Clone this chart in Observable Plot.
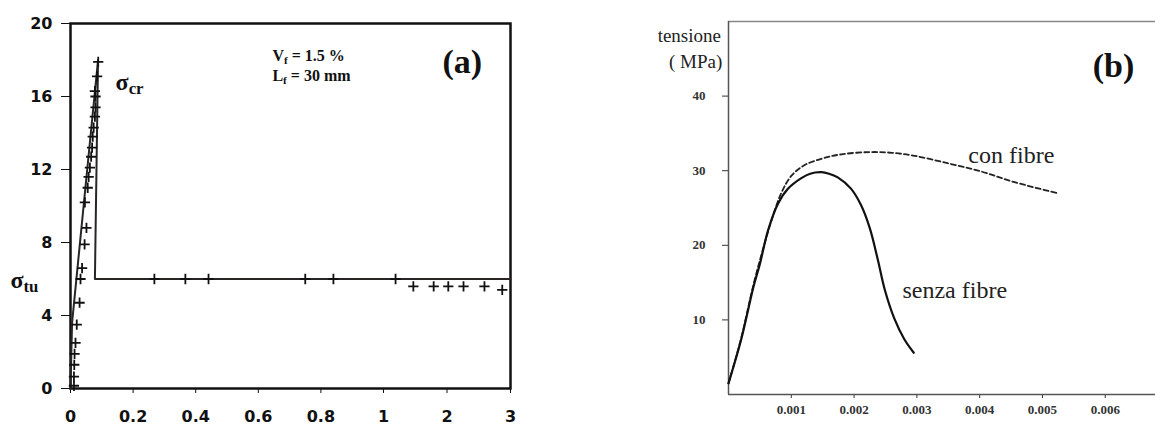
<!DOCTYPE html>
<html>
<head>
<meta charset="utf-8">
<script src="https://cdn.jsdelivr.net/npm/d3@7"></script>
<script src="https://cdn.jsdelivr.net/npm/@observablehq/plot@0.6"></script>
<style>
  body { margin: 0; background: #fff; }
  #wrap { position: relative; width: 1155px; height: 428px; overflow: hidden; background: #fff; }
  #pa { position: absolute; left: 0; top: 0; }
  #pb { position: absolute; left: 560px; top: 0; }
</style>
</head>
<body>
<div id="wrap"><div id="pa"></div><div id="pb"></div></div>
<script>
// ---------- Panel (a) data ----------
const aTicksX = [0, 0.2, 0.4, 0.6, 0.8, 1, 2, 3];
const aTicksY = [0, 4, 8, 12, 16, 20];
const aCrossX = [0.0885, 0.085, 0.078, 0.080, 0.080, 0.078, 0.074, 0.071, 0.069, 0.066, 0.062, 0.058, 0.055, 0.046,
                 0.051, 0.045, 0.037, 0.032, 0.029, 0.020, 0.016, 0.013, 0.012, 0.011, 0.011,
                 0.268, 0.367, 0.441, 0.75, 0.84, 1.19, 1.47, 1.79, 2.02, 2.26, 2.59, 2.87];
const aCrossY = [17.9, 17.1, 16.3, 16.0, 15.4, 14.9, 14.3, 13.8, 13.2, 12.7, 12.1, 11.6, 11.0, 10.2,
                 8.8, 7.9, 6.6, 6.0, 4.7, 3.5, 2.5, 1.9, 1.3, 0.65, 0.15,
                 6.0, 6.0, 6.0, 6.0, 6.0, 6.0, 5.6, 5.6, 5.6, 5.6, 5.6, 5.4];
const aModelX = [0, 0.005, 0.088, 0.078, 3];
const aModelY = [0, 3.6, 18.0, 6.0, 6.0];

// ---------- Panel (b) data ----------
const bTicksX = [0.001, 0.002, 0.003, 0.004, 0.005, 0.006];
const bTicksY = [10, 20, 30, 40];
const senzaX = [0, 0.0002, 0.0004, 0.0005, 0.00063, 0.00079, 0.00095, 0.00116, 0.0013, 0.00148, 0.0016, 0.00174,
                0.00195, 0.00211, 0.00225, 0.00238, 0.00249, 0.00264, 0.0028, 0.00295];
const senzaY = [1.5, 7.3, 14.5, 17.5, 22.0, 25.6, 27.6, 29.0, 29.6, 29.8, 29.6, 29.1,
                27.6, 25.4, 22.3, 18.0, 14.0, 10.2, 7.4, 5.6];
const conX = [0, 0.0002, 0.0004, 0.00055, 0.00068, 0.00084, 0.001, 0.0012, 0.00148, 0.0018, 0.00227, 0.0026,
              0.00296, 0.00349, 0.00402, 0.00454, 0.00523];
const conY = [1.5, 7.5, 14.8, 19.5, 23.2, 27.0, 29.3, 30.7, 31.6, 32.2, 32.5, 32.4,
              32.0, 31.0, 29.9, 28.5, 27.0];

const crosses = aCrossX.map((x, i) => ({x, y: aCrossY[i]}));
const model = aModelX.map((x, i) => ({x, y: aModelY[i]}));
const senza = senzaX.map((x, i) => ({x, y: senzaY[i]}));
const conF = conX.map((x, i) => ({x, y: conY[i]}));

// turn "A_{b}rest" into subscripted tspans (call after the svg is in the document)
function subscriptify(svg) {
  svg.querySelectorAll("text").forEach(t => {
    const s = t.textContent;
    const m = s.match(/^(.*?)_\{(.+?)\}(.*)$/);
    if (!m) return;
    const base = parseFloat(getComputedStyle(t).fontSize) || 16;
    const sub = base * 0.7, shift = base * 0.18;
    t.textContent = "";
    const ns = "http://www.w3.org/2000/svg";
    const a = document.createElementNS(ns, "tspan"); a.textContent = m[1]; t.appendChild(a);
    const b = document.createElementNS(ns, "tspan"); b.textContent = m[2];
    b.setAttribute("font-size", sub); b.setAttribute("dy", shift); t.appendChild(b);
    if (m[3]) {
      const c = document.createElementNS(ns, "tspan"); c.textContent = m[3];
      c.setAttribute("dy", -shift); t.appendChild(c);
    }
  });
}

// ---------- Panel (a) ----------
const plotA = Plot.plot({
  width: 560, height: 428,
  marginLeft: 70, marginRight: 50, marginTop: 23, marginBottom: 40,
  style: {fontFamily: "DejaVu Sans", fontWeight: "bold", fontSize: "16px", color: "#111", background: "#fff"},
  x: {type: "linear", domain: [0, 1, 3], range: [70, 383, 510], ticks: aTicksX, tickFormat: d => String(d),
      tickSize: 5, tickPadding: 17, label: null},
  y: {domain: [0, 20], ticks: aTicksY, tickSize: 9, tickPadding: 9, label: null},
  marks: [
    Plot.frame({stroke: "#111", strokeWidth: 2.5}),
    Plot.line(model, {x: "x", y: "y", stroke: "#2a2525", strokeWidth: 2}),
    Plot.dot(crosses, {x: "x", y: "y", symbol: "plus", r: 3.4, stroke: "#111", strokeWidth: 1.8}),
    Plot.text(["V_{f} = 1.5 %"], {x: 0.645, y: 18.2, text: d => d, textAnchor: "start",
      fontFamily: "Liberation Serif", fontWeight: "bold", fontSize: 16, fill: "#111"}),
    Plot.text(["L_{f} = 30 mm"], {x: 0.645, y: 17.15, text: d => d, textAnchor: "start",
      fontFamily: "Liberation Serif", fontWeight: "bold", fontSize: 16, fill: "#111"}),
    Plot.text(["(a)"], {x: 2.24, y: 17.9, text: d => d, textAnchor: "middle",
      fontFamily: "Liberation Serif", fontWeight: "bold", fontSize: 34, fill: "#111"}),
    Plot.text(["σ_{cr}"], {x: 0.144, y: 16.8, text: d => d, textAnchor: "start",
      fontFamily: "Liberation Serif", fontWeight: "bold", fontSize: 24, fill: "#111"}),
    Plot.text(["σ_{tu}"], {x: -0.192, y: 5.95, text: d => d, textAnchor: "start",
      fontFamily: "Liberation Serif", fontWeight: "bold", fontSize: 24, fill: "#111"})
  ]
});
document.getElementById("pa").appendChild(plotA);
subscriptify(plotA);

// ---------- Panel (b) ----------
const plotB = Plot.plot({
  width: 595, height: 428,
  marginLeft: 168, marginRight: 0, marginTop: 21, marginBottom: 34,
  style: {fontFamily: "Liberation Serif", fontWeight: "bold", fontSize: "13px", color: "#333", background: "#fff"},
  x: {domain: [0, 0.0068], ticks: bTicksX, tickFormat: d => String(d), tickSize: 4, tickPadding: 6, label: null},
  y: {domain: [0, 50], ticks: bTicksY, tickSize: 6, tickPadding: 17, label: null},
  marks: [
    Plot.ruleY([0], {stroke: "#555", strokeWidth: 1.5}),
    Plot.ruleY([50], {stroke: "#888", strokeWidth: 1.3}),
    Plot.ruleX([0], {stroke: "#555", strokeWidth: 1.5}),
    Plot.line(conF, {x: "x", y: "y", curve: "catmull-rom", stroke: "#222", strokeWidth: 1.8, strokeDasharray: "5,3"}),
    Plot.line(senza, {x: "x", y: "y", curve: "catmull-rom", stroke: "#111", strokeWidth: 2.2}),
    Plot.text(["tensione"], {x: -0.00012, y: 48.1, text: d => d, textAnchor: "end",
      fontFamily: "Liberation Serif", fontWeight: "normal", fontSize: 19, fill: "#222"}),
    Plot.text(["( MPa)"], {x: -0.0001, y: 44.6, text: d => d, textAnchor: "end",
      fontFamily: "Liberation Serif", fontWeight: "normal", fontSize: 19, fill: "#222"}),
    Plot.text(["(b)"], {x: 0.00613, y: 44.0, text: d => d, textAnchor: "middle",
      fontFamily: "Liberation Serif", fontWeight: "bold", fontSize: 34, fill: "#111"}),
    Plot.text(["con fibre"], {x: 0.00382, y: 32.1, text: d => d, textAnchor: "start",
      fontFamily: "Liberation Serif", fontWeight: "normal", fontSize: 24, fill: "#222"}),
    Plot.text(["senza fibre"], {x: 0.00277, y: 13.9, text: d => d, textAnchor: "start",
      fontFamily: "Liberation Serif", fontWeight: "normal", fontSize: 24, fill: "#222"})
  ]
});
document.getElementById("pb").appendChild(plotB);
</script>
</body>
</html>
